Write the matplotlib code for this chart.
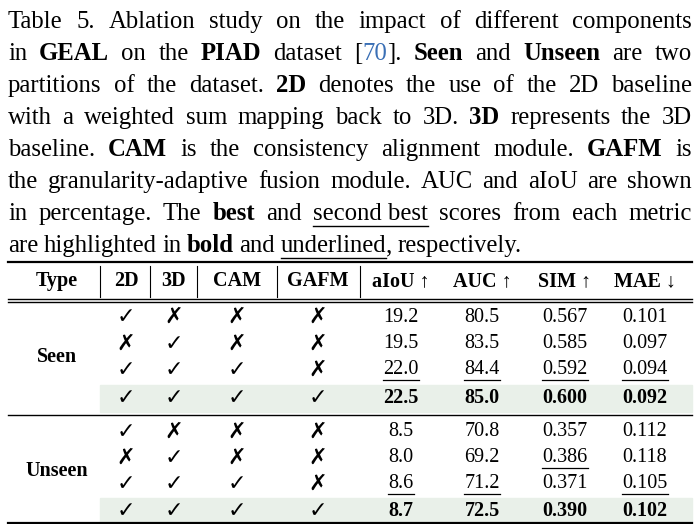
import matplotlib.pyplot as plt
from matplotlib.patches import Rectangle

plt.rcParams['font.family'] = ['Liberation Serif', 'DejaVu Sans']

# caption: each line is a list of words, each word a list of (text, style) pieces
# style: n = normal, b = bold, u = underline, c = blue citation
caption = [
    [[("Table", "n")], [("5.", "n")], [("Ablation", "n")], [("study", "n")], [("on", "n")],
     [("the", "n")], [("impact", "n")], [("of", "n")], [("different", "n")], [("components", "n")]],
    [[("in", "n")], [("GEAL", "b")], [("on", "n")], [("the", "n")], [("PIAD", "b")], [("dataset", "n")],
     [("[", "n"), ("70", "c"), ("].", "n")], [("Seen", "b")], [("and", "n")], [("Unseen", "b")],
     [("are", "n")], [("two", "n")]],
    [[("partitions", "n")], [("of", "n")], [("the", "n")], [("dataset.", "n")], [("2D", "b")],
     [("denotes", "n")], [("the", "n")], [("use", "n")], [("of", "n")], [("the", "n")], [("2D", "n")],
     [("baseline", "n")]],
    [[("with", "n")], [("a", "n")], [("weighted", "n")], [("sum", "n")], [("mapping", "n")], [("back", "n")],
     [("to", "n")], [("3D.", "n")], [("3D", "b")], [("represents", "n")], [("the", "n")], [("3D", "n")]],
    [[("baseline.", "n")], [("CAM", "b")], [("is", "n")], [("the", "n")], [("consistency", "n")],
     [("alignment", "n")], [("module.", "n")], [("GAFM", "b")], [("is", "n")]],
    [[("the", "n")], [("granularity-adaptive", "n")], [("fusion", "n")], [("module.", "n")], [("AUC", "n")],
     [("and", "n")], [("aIoU", "n")], [("are", "n")], [("shown", "n")]],
    [[("in", "n")], [("percentage.", "n")], [("The", "n")], [("best", "b")], [("and", "n")],
     [("second best", "u")], [("scores", "n")], [("from", "n")], [("each", "n")], [("metric", "n")]],
    [[("are", "n")], [("highlighted", "n")], [("in", "n")], [("bold", "b")], [("and", "n")],
     [("underlined", "u")], [(",", "n")], [("respectively.", "n")]],
]

headers = ["Type", "2D", "3D", "CAM", "GAFM", "aIoU ↑", "AUC ↑", "SIM ↑", "MAE ↓"]
groups = ["Seen", "Unseen"]
flags = [["✓", "✗", "✗", "✗"], ["✗", "✓", "✗", "✗"], ["✓", "✓", "✓", "✗"], ["✓", "✓", "✓", "✓"]]
seen_vals = [["19.2", "80.5", "0.567", "0.101"],
             ["19.5", "83.5", "0.585", "0.097"],
             ["22.0", "84.4", "0.592", "0.094"],
             ["22.5", "85.0", "0.600", "0.092"]]
unseen_vals = [["8.5", "70.8", "0.357", "0.112"],
               ["8.0", "69.2", "0.386", "0.118"],
               ["8.6", "71.2", "0.371", "0.105"],
               ["8.7", "72.5", "0.390", "0.102"]]
# underlined (second best) cells: (row, col)
seen_under = [(2, 0), (2, 1), (2, 2), (2, 3)]
unseen_under = [(2, 0), (2, 1), (1, 2), (2, 3)]

fig = plt.figure(figsize=(7, 5.24), dpi=100)
ax = fig.add_axes([0, 0, 1, 1])
ax.set_xlim(0, 700)
ax.set_ylim(524, 0)
ax.axis("off")
r = fig.canvas.get_renderer()

cap_fs = 17.8
blue = "#3a6fb5"


def width(t):
    bb = t.get_window_extent(renderer=r)
    return bb.width


left, right = 8, 692
for li, line in enumerate(caption):
    y = 22 + li * 32
    arts = []
    total = 0
    for word in line:
        parts = []
        for txt, st in word:
            t = ax.text(0, y, txt, fontsize=cap_fs, va="center", ha="left",
                        fontweight="bold" if st == "b" else "normal",
                        color=blue if st == "c" else "black")
            w = width(t)
            parts.append((t, w, st))
            total += w
        arts.append(parts)
    gaps = len(arts) - 1
    if li < len(caption) - 1:
        gap = (right - left - total) / gaps
    else:
        gap = 5.5
    x = left
    for wi, parts in enumerate(arts):
        # the comma after "underlined" attaches without a space
        if li == len(caption) - 1 and wi == 6:
            x -= gap
        for t, w, st in parts:
            t.set_x(x)
            if st == "u":
                ax.plot([x, x + w], [y + 12, y + 12], color="black", lw=1)
            x += w
        x += gap

# table
xs = [57, 126, 174, 237, 318, 401, 482, 565, 645]
bars = [100, 150, 197, 277, 360]
tfs = 14.5
ax.plot([8, 692], [262, 262], color="black", lw=1.6)
for x, h in zip(xs, headers):
    ax.text(x, 281, h, fontsize=tfs, fontweight="bold", ha="center", va="center")
for b in bars:
    ax.plot([b, b], [266, 297], color="black", lw=0.8)
ax.plot([8, 692], [299, 299], color="black", lw=1)
ax.plot([8, 692], [302, 302], color="black", lw=1)

blocks = [(groups[0], seen_vals, seen_under, [317, 344, 370, 398]),
          (groups[1], unseen_vals, unseen_under, [432, 458, 484, 511])]
for gi, (name, vals, under, ys) in enumerate(blocks):
    ax.add_patch(Rectangle((100, ys[3] - 13), 592, 27, color="#e9f0e9", zorder=0))
    ax.text(xs[0], (ys[1] + ys[2]) / 2, name, fontsize=tfs, fontweight="bold",
            ha="center", va="center")
    for ri, y in enumerate(ys):
        bold = ri == 3
        for ci in range(4):
            ax.text(xs[ci + 1], y, flags[ri][ci], fontsize=tfs + 1.5, ha="center", va="center",
                    family=["DejaVu Sans"], fontweight="bold" if bold else "normal")
        for ci in range(4):
            t = ax.text(xs[ci + 5], y, vals[ri][ci], fontsize=tfs, ha="center", va="center",
                        fontweight="bold" if bold else "normal")
            if (ri, ci) in under:
                w = width(t)
                ax.plot([xs[ci + 5] - w / 2, xs[ci + 5] + w / 2], [y + 10, y + 10],
                        color="black", lw=0.9)
ax.plot([8, 692], [415, 415], color="black", lw=1)
ax.plot([8, 692], [523, 523], color="black", lw=1.6)

fig.savefig("out.png", dpi=100)
